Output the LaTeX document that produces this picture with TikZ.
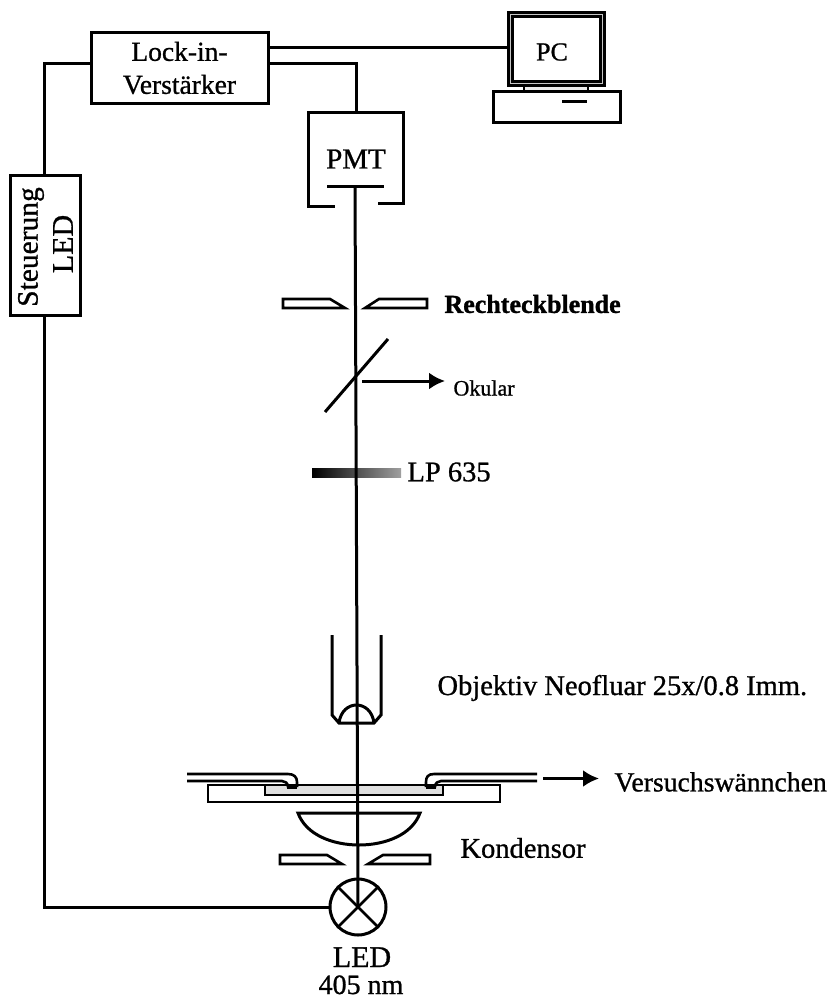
\documentclass[tikz,border=0pt]{standalone}
\usepackage{fontspec}
\setmainfont{Liberation Serif}[FakeBold=0.9,BoldFeatures={FakeBold=1.2}]
\usetikzlibrary{arrows.meta,positioning}

\begin{document}
\begin{tikzpicture}[
    x=1pt, y=-1pt,
    line width=3pt,
    box/.style={draw, align=center, inner sep=0pt, font=\fontsize{27.5}{33}\selectfont},
    label/.style={anchor=west, inner sep=0pt, font=\fontsize{28.5}{30}\selectfont},
    wire/.style={line width=3pt},
    thin wall/.style={line width=2.6pt, line join=miter},
    arrow/.style={-{Latex[length=16pt,width=17pt]}, line width=3pt}
  ]
    \useasboundingbox (0,0) rectangle (833,1000);

    % boxes
    \node[box, minimum width=177pt, minimum height=71pt] (lockin) at (179.5,68) {Lock-in-\\Verstärker};
    \node[box, minimum width=70pt, minimum height=139pt] (steuerung) at (45.5,245.5) {};
    \node[inner sep=0pt, rotate=90, font=\fontsize{29.5}{30}\selectfont] (steuerungtext) at (31,247) {Steuerung};
    \node[inner sep=0pt, rotate=90, font=\fontsize{30}{30}\selectfont] (ledtext) at (63,244) {LED};

    % PC
    \node[draw, line width=7pt, minimum width=92pt, minimum height=69pt, inner sep=0pt] (monitor) at (556.5,49) {};
    \node[draw=gray!45, line width=0.9pt, minimum width=92pt, minimum height=69pt, inner sep=0pt] (rahmen) at (556.5,49) {};
    \node[inner sep=0pt, font=\fontsize{26}{28}\selectfont] (pc) at (552,52) {PC};
    \node[draw, line width=2.4pt, fill=gray!15, minimum width=64pt, minimum height=6pt, inner sep=0pt] (fuss) at (556,89) {};
    \node[draw, fill=white, minimum width=127pt, minimum height=31pt, inner sep=0pt] (rechner) at (557,107.5) {};
    \coordinate (schlitza) at (562,102);
    \coordinate (schlitzb) at (587,102);
    \draw (schlitza) -- (schlitzb);

    % PMT
    \node[minimum width=92pt, minimum height=91pt, inner sep=0pt, font=\fontsize{29}{30}\selectfont] (pmt) at (356,160) {\raisebox{2pt}{PMT}};
    \draw (pmt.south west) ++(26,0) -| (pmt.north west) -- (pmt.north east) |- ++(-26,91);
    \coordinate (detektora) at (327,187);
    \coordinate (detektorb) at (384,187);
    \draw (detektora) -- (detektorb);

    % LED
    \node[draw, circle, minimum size=56pt, inner sep=0pt] (led) at (358,907) {};
    \draw[line width=2.6pt] (led.45) -- (led.225);
    \draw[line width=2.6pt] (led.135) -- (led.315);
    \node[anchor=base, inner sep=0pt, font=\fontsize{30}{30}\selectfont] (ledlabel) at (362,967) {LED};
    \node[anchor=base, inner sep=0pt, font=\fontsize{28}{30}\selectfont] (nm) at (361,994) {405 nm};

    % wires
    \coordinate (lockinpc) at (268,48);
    \coordinate (lockinpmt) at (268,64);
    \coordinate (lockinled) at (91,64);
    \draw[wire] (lockinpc) -- (lockinpc -| monitor.west);
    \draw[wire] (lockinpmt) -| (pmt.north);
    \draw[wire] (lockinled) -| (steuerung.north -| 44,0);
    \coordinate (steuerungout) at (44,315);
    \draw[wire] (steuerungout) |- (led.west);

    % Blenden
    \draw[thin wall] (283,299) -- (330,299) -- (345,308) -- (283,308) -- cycle;
    \draw[thin wall] (427,299) -- (379,299) -- (365,308) -- (427,308) -- cycle;
    \draw[thin wall] (280,855) -- (327,855) -- (342,864) -- (280,864) -- cycle;
    \draw[thin wall] (430,855) -- (383,855) -- (368,864) -- (430,864) -- cycle;

    % Spiegel, Filter
    \coordinate (spiegela) at (325,412);
    \coordinate (spiegelb) at (388,339);
    \draw (spiegela) -- (spiegelb);
    \shade[left color=black, right color=gray!75] (312,468) rectangle (401,477);

    % Objektiv
    \draw[line join=miter] (332,635) -- (332,715) -- (339,723) -- (374,723) -- (381,715) -- (381,635);
    \draw (339,723) .. controls (342,699) and (371,699) .. (374,723);

    % Kammer
    \draw[thin wall] (208,785) rectangle (500,802);
    \draw[thin wall, fill=gray!25] (265,785) rectangle (443,795);
    \draw[thin wall] (187,774) -- (288,774) .. controls (294,774) and (297,777) .. (297,782) -- (297,787);
    \draw[thin wall] (187,781) -- (282,781) .. controls (285,781) and (288,783) .. (288,787);
    \draw[thin wall] (537,774) -- (434,774) .. controls (428,774) and (426,777) .. (426,782) -- (426,787);
    \draw[thin wall] (537,781) -- (441,781) .. controls (438,781) and (435,783) .. (435,787);
    \draw[line width=3.5pt] (287,787.5) -- (297,787.5);
    \draw[line width=3.5pt] (426,787.5) -- (436,787.5);

    % Kondensor
    \draw[line join=miter] (298,813) -- (420,813) .. controls (412,835) and (385,845) .. (359,845) .. controls (333,845) and (306,835) .. (298,813) -- cycle;

    % Strahl
    \coordinate (strahl) at (355,187);
    \draw[wire] (strahl) -- (led.center);

    % labels
    \node[label, font=\bfseries\fontsize{26}{28}\selectfont] (blende) at (443,304) {Rechteckblende};
    \coordinate (okularstart) at (362,381);
    \coordinate (okularend) at (445,381);
    \node[label, font=\fontsize{22}{20}\selectfont] (okular) at (452,388) {Okular};
    \draw[arrow] (okularstart) -- (okularend);
    \node[label] (filter) at (406,472) {LP 635};
    \node[label] (objektiv) at (436,688) {Objektiv Neofluar 25x/0.8 Imm.};
    \node[label] (kondensor) at (459,848) {Kondensor};
    \node[label, font=\fontsize{27.7}{30}\selectfont] (kammer) at (613,782) {Versuchswännchen};
    \coordinate (kammerstart) at (543,778.5);
    \coordinate (kammerend) at (599,778.5);
    \draw[arrow] (kammerstart) -- (kammerend);
  \end{tikzpicture}
\end{document}
